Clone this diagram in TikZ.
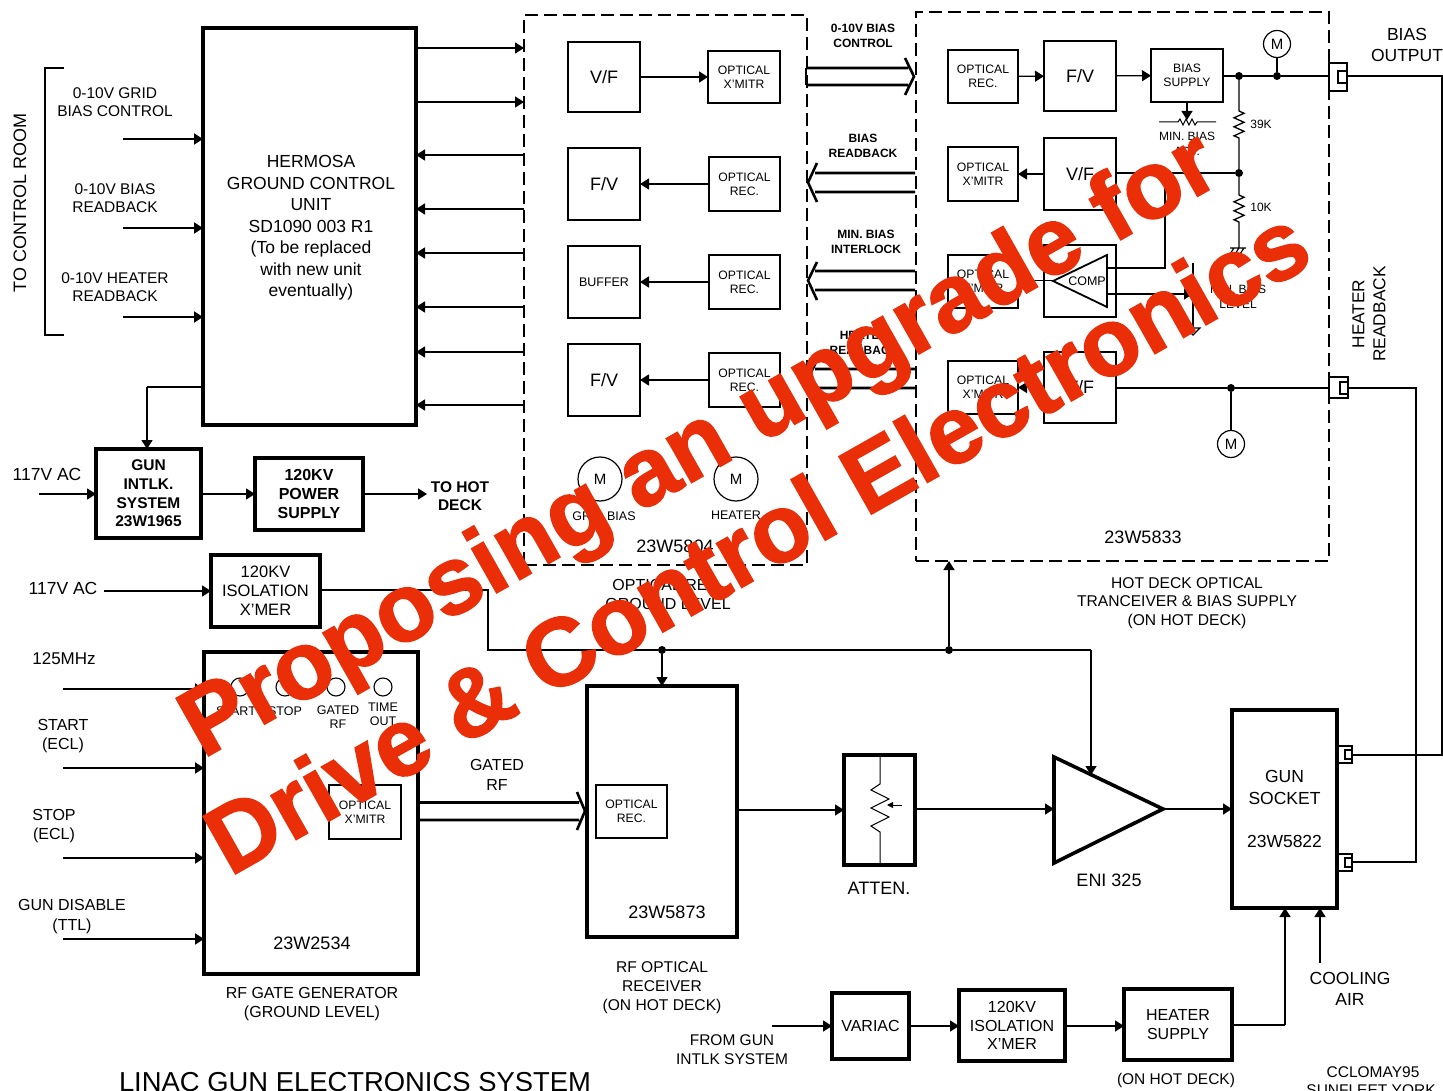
\documentclass[tikz,border=0pt]{standalone}
\usepackage{fontspec}
\setmainfont{Liberation Sans}
\newfontfamily\wmfont[FakeBold=1.6]{Liberation Sans Bold}
\usetikzlibrary{arrows.meta,calc}
\definecolor{wm}{RGB}{234,46,8}
\newcommand{\bx}[7][thinb]{\node[#1,minimum width={(#5pt-#3pt)},minimum height={(#6pt-#4pt)}] (#2) at ({(#3+#5)/2},{(#4+#6)/2}) {#7};}
\tikzset{
 x=1pt,y=-1pt,
 sz/.style 2 args={font=\fontsize{#1}{#2}\selectfont},
 bsz/.style 2 args={font=\fontsize{#1}{#2}\selectfont\bfseries},
 lab/.style={align=center,inner sep=0pt,outer sep=0pt,text=black},
 thinb/.style={draw,line width=1.2pt,inner sep=0pt,outer sep=0pt,align=center,sz={12.2}{14.2}},
 midb/.style={draw,line width=1.3pt,inner sep=0pt,outer sep=0pt,align=center,sz={18}{21}},
 heavy/.style={draw,line width=3.6pt,inner sep=0pt,outer sep=0pt,align=center,sz={16.5}{18.6}},
 dashbox/.style={draw,line width=1.5pt,dash pattern=on 13pt off 6pt,inner sep=0pt,outer sep=0pt},
 wire/.style={line width=1.6pt},
 ar/.style={line width=1.6pt,-{Triangle[length=9pt,width=11pt]}},
 hollow/.style={line width=2.6pt,line join=miter},
 jdot/.style={circle,fill=black,draw=none,minimum size=8pt,inner sep=0pt,outer sep=0pt},
 meter/.style={circle,draw,line width=1.2pt,inner sep=0pt,outer sep=0pt,sz={15}{17}},
 wmark/.style={text=wm,inner sep=0pt,outer sep=0pt,anchor=base west,rotate=29.5,font=\fontsize{96}{100}\selectfont\wmfont},
}
\begin{document}
\begin{tikzpicture}
\useasboundingbox (0,0) rectangle (1443,1091);

% ---- left column
\draw[line width=1.2pt] (64,68) -- (45,68) -- (45,335) -- (64,335);
\node[lab,sz={18}{20},rotate=90] (room) at (20,203) {TO CONTROL ROOM};
\bx[heavy,sz={17.5}{21.5}]{gcu}{203}{28}{416}{425}{}
\node[lab,sz={17.5}{21.5}] (gcutxt) at (311,228) {HERMOSA\\GROUND CONTROL\\UNIT\\SD1090 003 R1\\(To be replaced\\with new unit\\eventually)};
\coordinate (in1) at (123,139); \coordinate (in2) at (123,228); \coordinate (in3) at (123,317);
\draw[ar,line width=2pt] (in1) -- (gcu.west |- in1);
\draw[ar,line width=2pt] (in2) -- (gcu.west |- in2);
\draw[ar,line width=2pt] (in3) -- (gcu.west |- in3);
\node[lab,sz={15.5}{18.5}] (l1) at (115,102) {0-10V GRID\\BIAS CONTROL};
\node[lab,sz={15.5}{18.5}] (l2) at (115,198) {0-10V BIAS\\READBACK};
\node[lab,sz={15.5}{18.5}] (l3) at (115,287) {0-10V HEATER\\READBACK};

\bx[heavy,bsz={15.5}{18.7}]{gun}{96}{449}{201}{538}{GUN\\INTLK.\\SYSTEM\\23W1965}
\bx[heavy,bsz={16}{18.7}]{hvps}{255}{458}{363}{530}{120KV\\POWER\\SUPPLY}
\coordinate (g1) at (147,387);
\draw[wire] (gcu.west |- g1) -- (g1);
\draw[ar] (g1) -- (gun.north -| g1);
\coordinate (ac1) at (39,494);
\draw[ar] (ac1) -- (gun.west |- ac1);
\node[lab,sz={17.5}{20}] (ac1t) at (47,474) {117V AC};
\draw[ar] (gun.east |- hvps) -- (hvps);
\coordinate (hot) at (427,494);
\draw[ar] (hvps.east |- hot) -- (hot);
\node[lab,bsz={15.5}{18.5}] (hott) at (460,496) {TO HOT\\DECK};

\bx[heavy,sz={16.5}{19}]{iso}{211}{555}{320}{627}{120KV\\ISOLATION\\X'MER}
\coordinate (ac2) at (104,591);
\draw[ar] (ac2) -- (iso.west |- ac2);
\node[lab,sz={17.5}{20}] (ac2t) at (63,588) {117V AC};

% ---- ground optical chassis
\bx[dashbox]{gbox}{524}{15}{807}{565}{}
\foreach \yy in {48,102}{\draw[ar] (gcu.east |- 0,\yy) -- (gbox.west |- 0,\yy);}
\foreach \yy in {155,209,253,307,352,405}{\draw[ar] (gbox.west |- 0,\yy) -- (gcu.east |- 0,\yy);}

\bx[midb]{a1}{568}{42}{640}{112}{V/F}
\bx{a2}{708}{51}{780}{103}{OPTICAL\\X'MITR}
\draw[ar] (a1) -- (a2);
\bx[midb]{b1}{568}{148}{640}{220}{F/V}
\bx{b2}{709}{157}{780}{211}{OPTICAL\\REC.}
\draw[ar] (b2) -- (b1);
\bx[midb,sz={12.5}{15}]{c1}{568}{246}{640}{318}{BUFFER}
\bx{c2}{709}{255}{780}{309}{OPTICAL\\REC.}
\draw[ar] (c2) -- (c1);
\bx[midb]{d1}{568}{344}{640}{416}{F/V}
\bx{d2}{709}{353}{780}{407}{OPTICAL\\REC.}
\draw[ar] (d2) -- (d1);
\node[meter,minimum size=44pt] (m1) at (600,479) {M};
\node[meter,minimum size=44pt] (m2) at (736,479) {M};
\node[lab,sz={12.5}{15}] (m1t) at (604,516) {GRID BIAS};
\node[lab,sz={12.5}{15}] (m2t) at (736,515) {HEATER};
\node[lab,sz={18}{20}] (gid) at (675,546) {23W5804};
\node[lab,sz={16}{19}] (gcap) at (668,594) {OPTICAL REC.\\GROUND LEVEL};

% ---- hollow arrows
\node[lab,bsz={12}{14.6}] (ha1) at (863,36) {0-10V BIAS\\CONTROL};
\draw[hollow] (806,68) -- (908,68) (806,85) -- (908,85) (905,58) -- (914,76.5) -- (905,95);
\draw[hollow] (806,68) -- (806,85);
\node[lab,bsz={12}{14.6}] (ha2) at (863,146) {BIAS\\READBACK};
\draw[hollow] (915,173) -- (815,173) (915,192) -- (815,192) (817,163) -- (808,182.5) -- (817,202);
\node[lab,bsz={12}{14.6}] (ha3) at (866,242) {MIN. BIAS\\INTERLOCK};
\draw[hollow] (915,271) -- (815,271) (915,290) -- (815,290) (817,262) -- (808,280.5) -- (817,300);
\node[lab,bsz={12}{14.6}] (ha4) at (864,343) {HEATER\\READBACK};
\draw[hollow] (915,369) -- (815,369) (915,388) -- (815,388) (817,360) -- (808,378.5) -- (817,397);

% ---- hot deck chassis
\bx[dashbox]{hbox}{916}{12}{1329}{561}{}
\bx{e1}{948}{50}{1018}{103}{OPTICAL\\REC.}
\bx[midb]{e2}{1044}{41}{1116}{111}{F/V}
\bx{e3}{1151}{49}{1223}{102}{BIAS\\SUPPLY}
\draw[ar,line width=1.2pt] (e1) -- (e2);
\draw[ar,line width=1.2pt] (e2) -- (e3);
\bx{f1}{948}{147}{1018}{201}{OPTICAL\\X'MITR}
\bx[midb]{f2}{1044}{138}{1116}{210}{V/F}
\draw[ar,line width=1.2pt] (f2) -- (f1);
\bx{h1}{948}{255}{1018}{308}{OPTICAL\\X'MITR}
\bx[midb,line width=1.6pt]{h2}{1044}{245}{1116}{317}{}
\bx{i1}{948}{361}{1018}{414}{OPTICAL\\X'MITR}
\bx[midb,line width=2pt]{i2}{1044}{352}{1116}{423}{V/F}
\draw[ar,line width=1.2pt] (i2) -- (i1);

% bias output connector
\bx[draw,line width=1.8pt,inner sep=0pt,outer sep=0pt]{co1}{1329}{63}{1347}{91}{}
\bx[draw,line width=1.5pt,inner sep=0pt,outer sep=0pt]{co1i}{1338}{71}{1347}{83}{}
\bx[draw,line width=1.8pt,inner sep=0pt,outer sep=0pt]{co2}{1329}{377}{1348}{398}{}
\bx[draw,line width=1.5pt,inner sep=0pt,outer sep=0pt]{co2i}{1340}{382}{1348}{394}{}
\node[jdot] (j1) at (1239,76) {};
\node[jdot] (j2) at (1277,76) {};
\node[jdot] (j3) at (1239,173) {};
\node[meter,minimum size=27pt] (m3) at (1277,44) {M};
\draw[wire] (e3.east |- j1) -- (j1) -- (j2) -- (co1.west |- j2);
\draw[wire,line width=2.4pt] (m3) -- (j2);
\coordinate (r1a) at (1239,111); \coordinate (r1b) at (1239,138);
\coordinate (r2a) at (1239,195); \coordinate (r2b) at (1239,222);
\coordinate (gnd) at (1239,248);
\draw[wire,line width=1.3pt] (j1) -- (r1a) -- ++(5,2.3) -- ++(-10,4.5) -- ++(10,4.5) -- ++(-10,4.5) -- ++(10,4.5) -- ++(-10,4.5) -- ++(5,2.2) -- (j3);
\draw[wire,line width=1.3pt] (j3) -- (r2a) -- ++(5,2.3) -- ++(-10,4.5) -- ++(10,4.5) -- ++(-10,4.5) -- ++(10,4.5) -- ++(-10,4.5) -- ++(5,2.2) -- (gnd);
\draw[line width=1.2pt] (1230,248) -- (1246,248) (1230,254) -- (1234,248) (1235,254) -- (1239,248) (1240,254) -- (1244,248);
\node[lab,sz={12}{14}] (r1t) at (1261,124) {39K};
\node[lab,sz={12}{14}] (r2t) at (1261,207) {10K};
\coordinate (pot) at (1187,120);
\draw[ar,line width=1.2pt] (e3) -- (pot);
\draw[line width=1pt] (1159,122) -- (1178,122) -- ++(2,-3) -- ++(3,6) -- ++(3,-6) -- ++(3,6) -- ++(3,-6) -- ++(3,6) -- ++(2,-3) -- (1216,122);
\node[lab,sz={12}{15}] (adj) at (1187,144) {MIN. BIAS\\ADJ.};
\draw[wire] (f2.east |- j3) -- (j3);
\coordinate (up) at (1165,173); \coordinate (upb) at (1165,268);
\draw[wire,line width=2pt] (up) -- (upb) -- (1107,268);
\coordinate (trtop) at (1193,263); \coordinate (trbot) at (1193,328);
\draw[wire] (trtop) -- (trbot);
\draw[line width=1.2pt] (1186,328) -- (1200,328) -- (1193,335) -- cycle;
\coordinate (cmpo) at (1107,294);
\draw[ar] (cmpo) -- (trtop |- cmpo);
\node[lab,sz={12}{15}] (lvl) at (1238,297) {MIN. BIAS\\LEVEL};
\draw[line width=1.8pt,line join=miter] (1107,255) -- (1107,307) -- (1053,281) -- cycle;
\coordinate (cmptip) at (1053,281);
\draw[line width=1pt] (h1.east |- cmptip) -- (cmptip);
\node[lab,sz={12.5}{15}] (comp) at (1087,281) {COMP};
\node[jdot] (j4) at (1231,388) {};
\node[meter,minimum size=27pt] (m4) at (1231,444) {M};
\draw[wire] (i2.east |- j4) -- (j4) -- (co2.west |- j4);
\draw[wire] (j4) -- (m4);
\node[lab,sz={18}{20}] (hid) at (1143,537) {23W5833};
\node[lab,sz={15.6}{18.7}] (hcap) at (1187,603) {HOT DECK OPTICAL\\TRANCEIVER \& BIAS SUPPLY\\(ON HOT DECK)};
\node[lab,sz={17.5}{21}] (bo) at (1407,45) {BIAS\\OUTPUT};
\node[lab,sz={17.3}{21},rotate=90] (hr) at (1369,314) {HEATER\\READBACK};

% ---- RF gate generator
\bx[heavy]{rfg}{204}{652}{418}{974}{}
\foreach \nm/\yy in {p1/689,p2/768,p3/858,p4/939}{
 \coordinate (\nm) at (63,\yy);
 \draw[ar,line width=2pt] (\nm) -- (rfg.west |- \nm);}
\node[lab,sz={17}{19}] (t125) at (64,659) {125MHz};
\node[lab,sz={16}{19}] (tst) at (63,736) {START\\(ECL)};
\node[lab,sz={16}{19}] (tsp) at (54,826) {STOP\\(ECL)};
\node[lab,sz={16}{20}] (tgd) at (72,917) {GUN DISABLE\\(TTL)};
\foreach \nm/\xx in {q1/240,q2/285,q3/336,q4/383}{\node[circle,draw,line width=1.1pt,minimum size=18pt,inner sep=0pt] (\nm) at (\xx,687) {};}
\node[lab,sz={12.5}{14}] (q1t) at (236,711) {START};
\node[lab,sz={12.5}{14}] (q2t) at (285,711) {STOP};
\node[lab,sz={12.5}{14}] (q3t) at (338,717) {GATED\\RF};
\node[lab,sz={12.5}{14}] (q4t) at (383,714) {TIME\\OUT};
\bx{rfx}{329}{785}{401}{839}{OPTICAL\\X'MITR}
\node[lab,sz={18}{20}] (rfid) at (312,943) {23W2534};
\node[lab,sz={16}{19}] (rfcap) at (312,1004) {RF GATE GENERATOR\\(GROUND LEVEL)};
\node[lab,sz={16}{20}] (grf) at (497,775) {GATED\\RF};

% ---- RF optical receiver
\bx[heavy]{rfo}{587}{686}{737}{937}{}
\bx{rfi}{596}{785}{667}{838}{OPTICAL\\REC.}
\node[lab,sz={18}{20}] (roid) at (667,912) {23W5873};
\node[lab,sz={15.6}{19}] (rocap) at (662,988) {RF OPTICAL\\RECEIVER\\(ON HOT DECK)};
\draw[hollow] (418,802.5) -- (579,802.5) (418,820) -- (579,820) (577,792) -- (585,811) -- (577,830);

% ---- attenuator
\bx[heavy]{att}{844}{755}{915}{865}{}
\draw[line width=1pt] (880,757) -- (880,784) -- (871,790) -- (889,799) -- (871,808) -- (889,817) -- (871,826) -- (880,832) -- (880,863);
\draw[line width=1pt,-{Triangle[length=6pt,width=6pt]}] (902,805) -- (887,805);
\node[lab,sz={18}{20}] (attt) at (879,888) {ATTEN.};
\draw[ar] (rfo.east |- 0,810) -- (att.west |- 0,810);

% ---- amp
\coordinate (t1) at (1054,757); \coordinate (t2) at (1054,863); \coordinate (t3) at (1163,809);
\draw[line width=3.6pt,line join=miter] (t1) -- (t2) -- (t3) -- cycle;
\node[lab,sz={18}{20}] (enit) at (1109,880) {ENI 325};
\draw[ar] (att.east |- t3) -- (t1 |- t3);

% ---- gun socket
\bx[heavy,sz={17.5}{21.5}]{sock}{1232}{710}{1337}{908}{GUN\\SOCKET\\\strut\\23W5822}
\draw[ar] (t3) -- (sock.west |- t3);
\bx[draw,line width=1.5pt,inner sep=0pt,outer sep=0pt]{s1}{1338}{746}{1352}{763}{}
\bx[draw,line width=1.5pt,inner sep=0pt,outer sep=0pt]{s1i}{1345}{750}{1352}{759}{}
\bx[draw,line width=1.5pt,inner sep=0pt,outer sep=0pt]{s2}{1338}{854}{1352}{871}{}
\bx[draw,line width=1.5pt,inner sep=0pt,outer sep=0pt]{s2i}{1345}{858}{1352}{867}{}
\coordinate (rr1) at (1442,76); \coordinate (rr2) at (1442,755);
\draw[wire] (co1i.east |- rr1) -- (rr1) -- (rr2) -- (s1i.east |- rr2);
\coordinate (rh1) at (1416,388); \coordinate (rh2) at (1416,862);
\draw[wire,line width=1.3pt] (co2i.east |- rh1) -- (rh1) -- (rh2) -- (s2i.east |- rh2);

% ---- HV rail
\node[jdot] (k1) at (662,650) {};
\node[jdot] (k2) at (949,650) {};
\coordinate (w1) at (488,590); \coordinate (w2) at (488,650); \coordinate (w3) at (1091,650);
\draw[wire,line width=2pt] (iso.east |- w1) -- (w1) -- (w2) -- (k1) -- (k2) -- (w3);
\draw[ar] (w3) -- (1091,775);
\draw[ar] (k1) -- (rfo.north -| k1);
\draw[ar] (k2) -- (hbox.south -| k2);

% ---- bottom row
\bx[heavy,sz={16}{18.5}]{var}{832}{993}{909}{1059}{VARIAC}
\bx[heavy,sz={16}{18.7}]{iso2}{959}{990}{1065}{1061}{120KV\\ISOLATION\\X'MER}
\bx[heavy,sz={16}{18.5}]{hs}{1124}{989}{1232}{1060}{HEATER\\SUPPLY}
\coordinate (fg) at (772,1026);
\draw[ar] (fg) -- (var.west |- fg);
\draw[ar] (var.east |- fg) -- (iso2.west |- fg);
\draw[ar] (iso2.east |- fg) -- (hs.west |- fg);
\coordinate (hb) at (1285,1025);
\draw[wire] (hs.east |- hb) -- (hb);
\draw[ar] (hb) -- (sock.south -| hb);
\coordinate (cool) at (1320,963);
\draw[ar] (cool) -- (sock.south -| cool);
\node[lab,sz={17.5}{21}] (coolt) at (1350,989) {COOLING\\AIR};
\node[lab,sz={15.5}{19}] (fgt) at (732,1050) {FROM GUN\\INTLK SYSTEM};
\node[lab,sz={15.5}{18}] (hst) at (1176,1080) {(ON HOT DECK)};
\node[lab,sz={27.4}{30},anchor=base west] (title) at (119,1091) {LINAC GUN ELECTRONICS SYSTEM};
\node[lab,sz={15.5}{16}] (cc) at (1373,1072) {CCLOMAY95};
\node[lab,sz={15.5}{16},anchor=base] (cc2) at (1371,1095) {SUNFLEET YORK};

% ---- overlay
\node[wmark] (w1t) at (203,759) {Proposing an upgrade for};
\node[wmark] (w2t) at (230,877) {Drive \& Control Electronics};
\end{tikzpicture}
\end{document}
